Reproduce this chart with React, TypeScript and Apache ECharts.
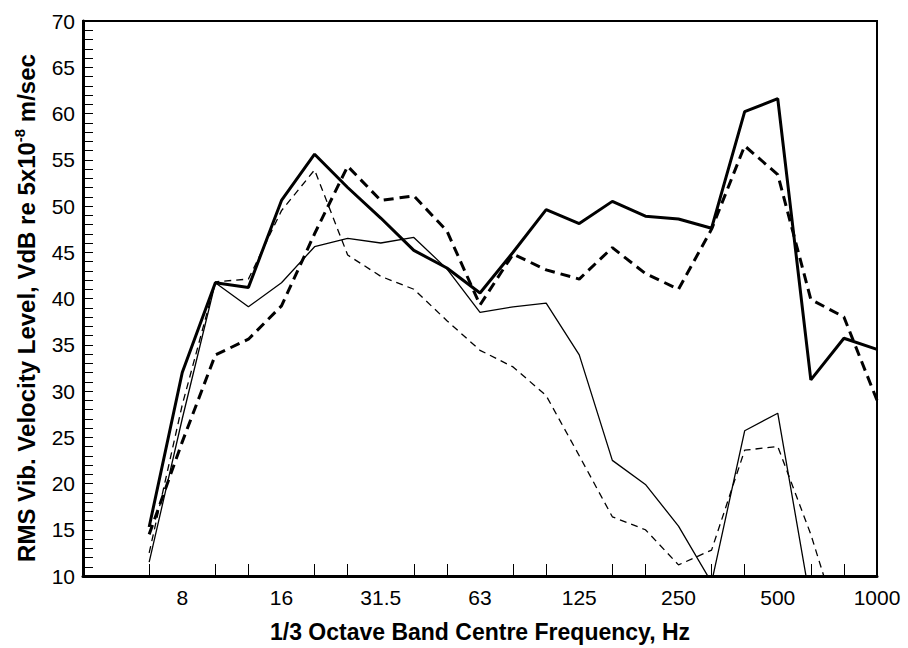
import React, { useEffect, useRef } from "react";
import * as echarts from "echarts";

// 1/3 octave band centre frequencies (Hz); axis runs from 4 Hz to 1000 Hz
const bands = ["4", "5", "6.3", "8", "10", "12.5", "16", "20", "25", "31.5", "40", "50", "63", "80", "100", "125", "160", "200", "250", "315", "400", "500", "630", "800", "1000"];
const labelledBands = ["8", "16", "31.5", "63", "125", "250", "500", "1000"];

// Series values, VdB (null = no data); first two entries correspond to 4 and 5 Hz
const thickSolid = [null, null, 15.3, 32.0, 41.7, 41.2, 50.6, 55.6, 52.0, 48.7, 45.2, 43.3, 40.6, 45.0, 49.6, 48.1, 50.5, 48.9, 48.6, 47.6, 60.2, 61.6, 31.2, 35.7, 34.5];
const thickDashed = [null, null, 14.5, 24.5, 33.9, 35.6, 39.2, 47.0, 54.3, 50.6, 51.1, 47.3, 39.3, 44.8, 43.1, 42.1, 45.5, 42.7, 41.0, 47.5, 56.5, 53.4, 39.9, 38.0, 29.0];
const thinSolid = [null, null, 11.5, 27.0, 41.7, 39.1, 41.7, 45.6, 46.5, 46.0, 46.6, 43.2, 38.5, 39.1, 39.5, 33.9, 22.5, 19.9, 15.4, 9.3, 25.7, 27.6, 7.0, null, null];
const thinDashed = [null, null, 12.5, 28.5, 41.8, 42.1, 49.5, 53.9, 44.7, 42.4, 41.0, 37.6, 34.4, 32.6, 29.5, 23.0, 16.4, 15.0, 11.2, 12.8, 23.6, 24.0, 14.5, 3.0, null];

const yMin = 10;
const yMax = 70;
const yStep = 5;

const FONT = "'Liberation Sans', Arial, Helvetica, sans-serif";

export default function App() {
  const ref = useRef<HTMLDivElement>(null);

  useEffect(() => {
    if (!ref.current) return;
    const chart = echarts.init(ref.current, undefined, { renderer: "svg" });
    const lineSeries = (data: (number | null)[], width: number, type: any) => ({
      type: "line",
      data,
      symbol: "none",
      clip: true,
      connectNulls: false,
      lineStyle: { color: "#000", width, type },
    });
    chart.setOption({
      animation: false,
      backgroundColor: "#fff",
      grid: {
        left: 83,
        right: 31,
        top: 21,
        bottom: 70,
        show: true,
        borderColor: "#000",
        borderWidth: 2,
        backgroundColor: "transparent",
      },
      graphic: [
        {
          type: "text",
          x: 25,
          y: 308,
          rotation: Math.PI / 2,
          style: {
            text: "{b|RMS Vib. Velocity Level, VdB re 5x10}{s|-8}{b| m/sec}",
            align: "center",
            verticalAlign: "middle",
            fill: "#000",
            rich: {
              b: { fontFamily: FONT, fontSize: 24, fontWeight: "bold", fill: "#000", lineHeight: 27, verticalAlign: "bottom" },
              s: { fontFamily: FONT, fontSize: 15, fontWeight: "bold", fill: "#000", lineHeight: 15, verticalAlign: "top" },
            },
          },
        },
      ],
      xAxis: {
        type: "category",
        data: bands,
        boundaryGap: false,
        name: "1/3 Octave Band Centre Frequency, Hz",
        nameLocation: "middle",
        nameGap: 44,
        nameTextStyle: { fontFamily: FONT, fontSize: 23, fontWeight: "bold", color: "#000" },
        axisLine: { lineStyle: { color: "#000", width: 3 } },
        axisTick: {
          inside: true,
          length: 12,
          lineStyle: { color: "#000", width: 1 },
          interval: (index: number, value: string) => index >= 2 && index < bands.length - 1 && labelledBands.indexOf(value) < 0,
        },
        axisLabel: {
          interval: (index: number, value: string) => labelledBands.indexOf(value) >= 0,
          fontFamily: FONT,
          fontSize: 21,
          color: "#000",
          margin: 11,
        },
        splitLine: { show: false },
      },
      yAxis: {
        type: "value",
        min: yMin,
        max: yMax,
        interval: yStep,
        axisLine: { show: true, lineStyle: { color: "#000", width: 3 } },
        axisTick: { show: true, inside: true, length: 10, lineStyle: { color: "#000", width: 1 } },
        minorTick: { show: true, splitNumber: 5, length: 10, lineStyle: { color: "#000", width: 1 } },
        axisLabel: { fontFamily: FONT, fontSize: 21, color: "#000", margin: 8 },
        splitLine: { show: false },
        minorSplitLine: { show: false },
      },
      series: [
        lineSeries(thickSolid, 3, "solid"),
        lineSeries(thickDashed, 3, [10, 6]),
        lineSeries(thinSolid, 1.3, "solid"),
        lineSeries(thinDashed, 1.3, [7, 5]),
      ],
    });
    return () => chart.dispose();
  }, []);

  return (
    <div
      ref={ref}
      style={{ position: "fixed", left: 0, top: 0, width: 908, height: 648, background: "#fff" }}
    />
  );
}
